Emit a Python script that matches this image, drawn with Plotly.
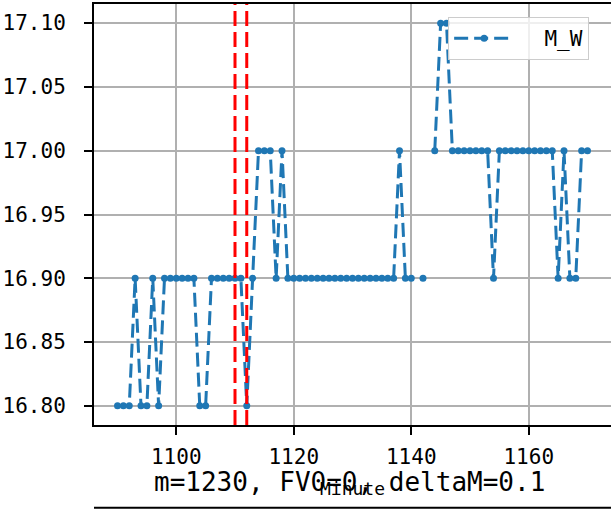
import plotly.graph_objects as go

minutes = [1090, 1091, 1092, 1093, 1094, 1095, 1096, 1097, 1098, 1099,
           1100, 1101, 1102, 1103, 1104, 1105, 1106, 1107, 1108, 1109,
           1110, 1111, 1112, 1113, 1114, 1115, 1116, 1117, 1118, 1119,
           1120, 1121, 1122, 1123, 1124, 1125, 1126, 1127, 1128, 1129,
           1130, 1131, 1132, 1133, 1134, 1135, 1136, 1137, 1138, 1139,
           1140, 1141, 1142, 1143, 1144, 1145, 1146, 1147, 1148, 1149,
           1150, 1151, 1152, 1153, 1154, 1155, 1156, 1157, 1158, 1159,
           1160, 1161, 1162, 1163, 1164, 1165, 1166, 1167, 1168, 1169,
           1170]
m_w = [16.8, 16.8, 16.8, 16.9, 16.8, 16.8, 16.9, 16.8, 16.9, 16.9,
       16.9, 16.9, 16.9, 16.9, 16.8, 16.8, 16.9, 16.9, 16.9, 16.9,
       16.9, 16.9, 16.8, 16.9, 17.0, 17.0, 17.0, 16.9, 17.0, 16.9,
       16.9, 16.9, 16.9, 16.9, 16.9, 16.9, 16.9, 16.9, 16.9, 16.9,
       16.9, 16.9, 16.9, 16.9, 16.9, 16.9, 16.9, 16.9, 17.0, 16.9,
       16.9, None, 16.9, None, 17.0, 17.1, 17.1, 17.0, 17.0, 17.0,
       17.0, 17.0, 17.0, 17.0, 16.9, 17.0, 17.0, 17.0, 17.0, 17.0,
       17.0, 17.0, 17.0, 17.0, 17.0, 16.9, 17.0, 16.9, 16.9, 17.0,
       17.0]
vlines = [1110, 1112]
x_ticks = [1100, 1120, 1140, 1160]
y_ticks = [16.80, 16.85, 16.90, 16.95, 17.00, 17.05, 17.10]
series_name = "M_W"
x_title = "Minute"
sub_title = "m=1230, FV0=0, deltaM=0.1"

FONT = "DejaVu Sans Mono"
BLUE = "#1f77b4"

fig = go.Figure()
fig.add_trace(go.Scatter(
    x=minutes, y=m_w, mode="lines+markers",
    name="\u00a0\u00a0" + series_name,
    line=dict(color=BLUE, width=3, dash="14px,6px"),
    marker=dict(color=BLUE, size=7),
    connectgaps=False,
))

for v in vlines:
    fig.add_shape(type="line", xref="x", yref="paper", x0=v, x1=v, y0=0, y1=1,
                  line=dict(color="#ff0000", width=3, dash="15px,6px"), layer="above")

# top spine of the (cropped) subplot below
fig.add_shape(type="line", xref="paper", yref="paper", x0=0, x1=1,
              y0=-0.1964, y1=-0.1964, line=dict(color="black", width=2))

fig.add_annotation(text=sub_title, xref="paper", yref="paper", x=0.495, y=-0.135,
                   xanchor="center", yanchor="middle", showarrow=False,
                   font=dict(family=FONT, size=26, color="black"))

fig.update_layout(
    width=611, height=509,
    margin=dict(l=94, r=0, t=4, b=84),
    paper_bgcolor="white", plot_bgcolor="white",
    font=dict(family=FONT, color="black"),
    showlegend=True,
    legend=dict(x=0.685, y=0.969, xanchor="left", yanchor="top",
                bgcolor="rgba(255,255,255,0.8)", bordercolor="#cccccc", borderwidth=1,
                font=dict(family=FONT, size=21, color="black"), itemwidth=60),
    xaxis=dict(range=[1086, 1174], tickvals=x_ticks, ticktext=[str(t) for t in x_ticks],
               automargin=False,
               showgrid=True, gridcolor="#b0b0b0", gridwidth=1.5,
               showline=True, linecolor="black", linewidth=2, mirror=True,
               ticks="outside", ticklen=8, tickwidth=1.5, tickcolor="black",
               tickfont=dict(family=FONT, size=21, color="black"),
               ticklabelstandoff=4,
               zeroline=False,
               title=dict(text=x_title, font=dict(family=FONT, size=18, color="black"),
                          standoff=14)),
    yaxis=dict(range=[16.785, 17.115], tickvals=y_ticks,
               ticktext=["%.2f" % t for t in y_ticks],
               automargin=False,
               showgrid=True, gridcolor="#b0b0b0", gridwidth=1.5,
               showline=True, linecolor="black", linewidth=2, mirror=False,
               ticks="outside", ticklen=8, tickwidth=1.5, tickcolor="black",
               tickfont=dict(family=FONT, size=21, color="black"),
               ticklabelstandoff=14,
               zeroline=False),
)

fig.write_html("out.html",
               config={"displayModeBar": False},
               post_script="document.body.style.margin='0';document.body.style.overflow='hidden';")
